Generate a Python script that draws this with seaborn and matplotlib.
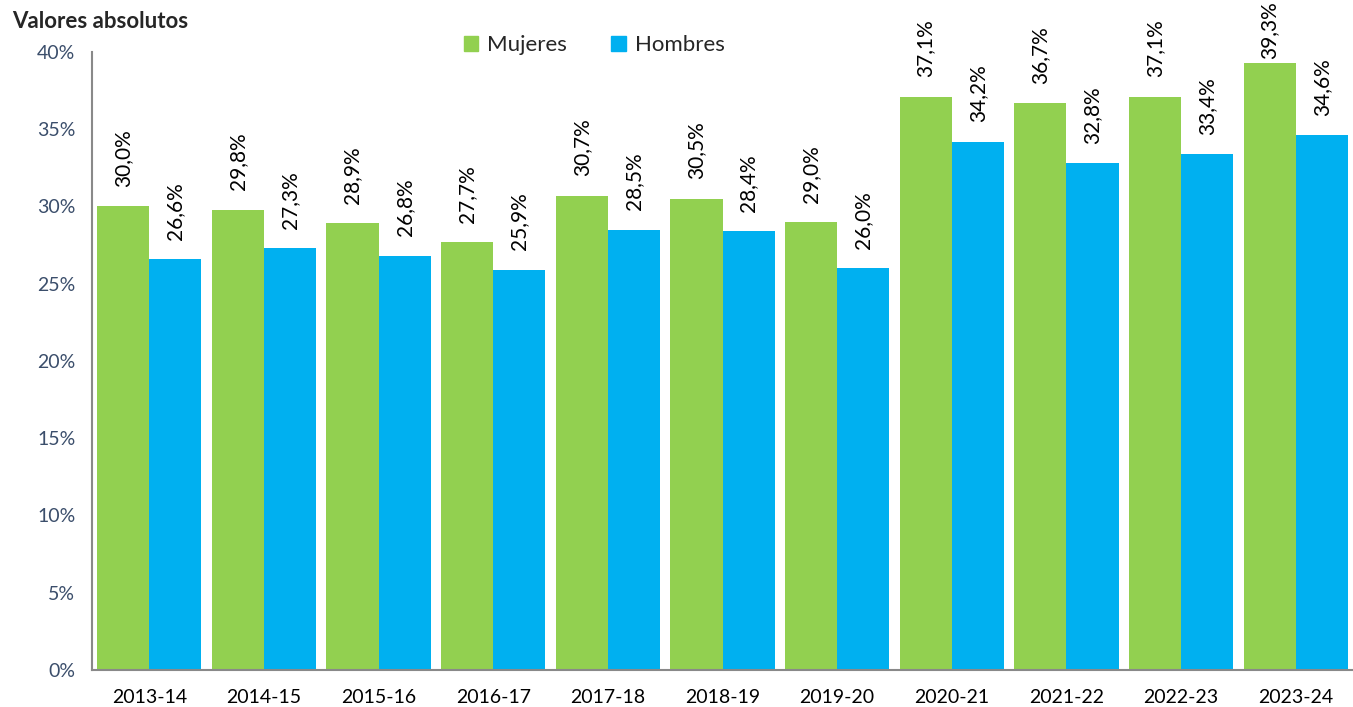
import pandas as pd
import matplotlib.pyplot as plt
import seaborn as sns
from matplotlib.patches import Patch

# Datos
cursos = ['2013-14', '2014-15', '2015-16', '2016-17', '2017-18', '2018-19',
          '2019-20', '2020-21', '2021-22', '2022-23', '2023-24']
mujeres = [30.0, 29.8, 28.9, 27.7, 30.7, 30.5, 29.0, 37.1, 36.7, 37.1, 39.3]
hombres = [26.6, 27.3, 26.8, 25.9, 28.5, 28.4, 26.0, 34.2, 32.8, 33.4, 34.6]

df = pd.DataFrame({
    'curso': cursos * 2,
    'valor': mujeres + hombres,
    'sexo': ['Mujeres'] * len(cursos) + ['Hombres'] * len(cursos),
})

sns.set_style('white')
plt.rcParams['font.family'] = ['Lato', 'DejaVu Sans']

fig = plt.figure(figsize=(13.53, 7.07), dpi=100)
ax = fig.add_axes([92 / 1353, 37 / 707, (1353 - 92) / 1353, (670 - 52) / 707])

sns.barplot(data=df, x='curso', y='valor', hue='sexo',
            palette={'Mujeres': '#92D050', 'Hombres': '#00B0F0'},
            width=0.91, gap=0, saturation=1, linewidth=0, edgecolor='none',
            ax=ax, legend=False)

textos = []
for cont in ax.containers:
    etiquetas = [f"{b.get_height():.1f}%".replace('.', ',') for b in cont]
    textos += ax.bar_label(cont, labels=etiquetas, rotation=90, padding=14,
                           fontsize=15, color='black')

ax.set_ylim(0, 40)
ax.set_xlim(-0.5, 10.5 - 15 / 116)
ax.set_yticks(range(0, 41, 5))
ax.set_yticklabels([f'{v}%' for v in range(0, 41, 5)], fontsize=14, color='#3B4E6B')
ax.tick_params(axis='y', length=6, width=1.5, color='#898989', pad=6)

# ticks entre categorías, etiquetas al centro
ax.set_xticks([i - 0.5 for i in range(len(cursos) + 1)])
ax.set_xticklabels([])
ax.set_xticks(range(len(cursos)), minor=True)
ax.set_xticklabels(cursos, minor=True, fontsize=14, color='black')
ax.tick_params(axis='x', which='major', length=6, width=1.5, color='#898989')
ax.tick_params(axis='x', which='minor', length=0, pad=14)

ax.set_xlabel('')
ax.set_ylabel('')
for s in ['top', 'right']:
    ax.spines[s].set_visible(False)
for s in ['left', 'bottom']:
    ax.spines[s].set_color('#898989')
    ax.spines[s].set_linewidth(1.5)

handles = [Patch(color='#92D050', label='Mujeres'), Patch(color='#00B0F0', label='Hombres')]
fig.legend(handles=handles, loc='center', bbox_to_anchor=(594 / 1353, 1 - 45 / 707),
           ncol=2, frameon=False, fontsize=16, handlelength=0.65, handleheight=0.65,
           columnspacing=2.0, handletextpad=0.4)

fig.text(12 / 1353, 1 - 22 / 707, 'Valores absolutos', fontsize=16, fontweight='bold',
         va='center', ha='left')

# bajar las etiquetas que se salen por arriba (como hace Excel)
fig.canvas.draw()
r = fig.canvas.get_renderer()
alto = fig.bbox.height
for t in textos:
    bb = t.get_window_extent(r)
    exceso = bb.y1 - (alto - 1)
    if exceso > 0:
        x, y = t.xyann
        t.xyann = (x, y - exceso * 72 / fig.dpi)

fig.savefig('out.png', dpi=100)
